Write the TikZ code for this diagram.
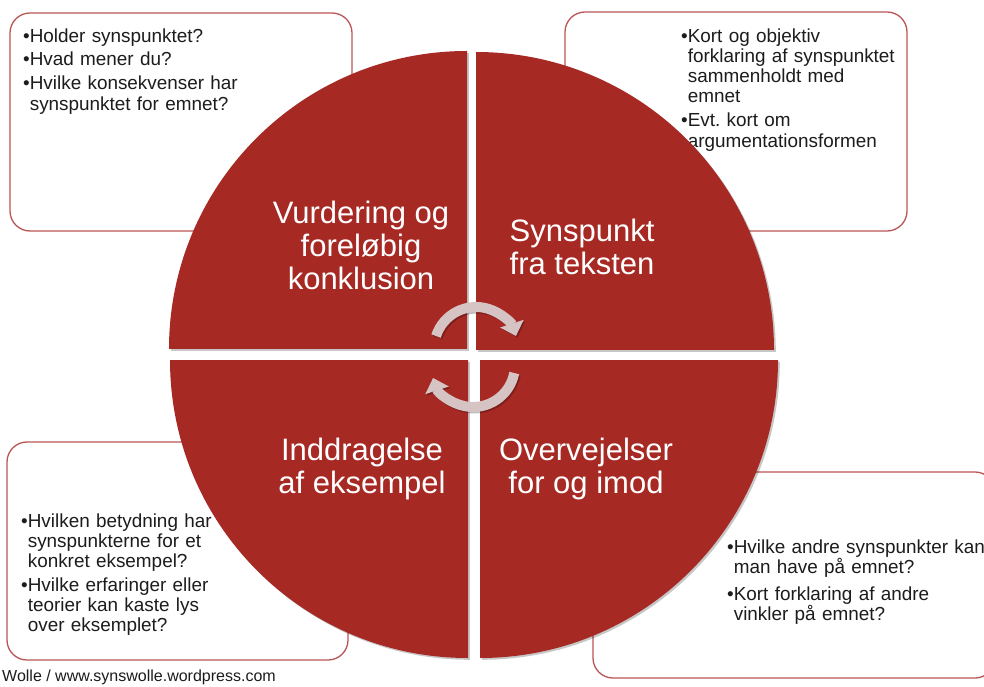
\documentclass[tikz,border=0pt]{standalone}
\usepackage{fontspec}
\setmainfont{Liberation Sans}
\usetikzlibrary{arrows.meta,shadows}
\definecolor{qred}{RGB}{167,41,36}
\definecolor{boxline}{RGB}{186,86,86}
\definecolor{arrowgray}{RGB}{214,196,197}
\definecolor{txt}{RGB}{28,28,28}
\frenchspacing
\newcommand{\bul}[1]{\par\noindent\hangindent=0.35em\hangafter=1 •#1\par}
\begin{document}
\begin{tikzpicture}[x=1pt,y=1pt,
  infobox/.style={draw=boxline, line width=1.3pt, fill=white, rounded corners=20pt, inner sep=0pt},
  boxtext/.style={anchor=north west, inner sep=0pt, text width=330pt, align=left, text=txt,
    font=\fontsize{18.9}{20.3}\selectfont},
  quad/.style={fill=qred, drop shadow={shadow xshift=1.8pt, shadow yshift=-1.8pt, opacity=0.22, fill=black}},
  title/.style={text=white, align=center, inner sep=0pt, font=\fontsize{31}{33}\selectfont},
  cyc/.style={draw=arrowgray, line width=10pt, -{Triangle[length=13pt,width=24pt]}},
  cycshadow/.style={draw=black, opacity=0.25, line width=10pt, -{Triangle[length=13pt,width=24pt]}}
]
\useasboundingbox (0,0) rectangle (984,686);
\fill[white] (0,0) rectangle (984,686);

% boxes
\node[infobox, minimum width=342pt, minimum height=218pt] (boxTL) at (181,564) {};
\node[infobox, minimum width=342pt, minimum height=219pt] (boxTR) at (736,564.5) {};
\node[infobox, minimum width=341pt, minimum height=218pt] (boxBL) at (177.5,135) {};
\node[infobox, minimum width=402pt, minimum height=206pt] (boxBR) at (794,111) {};

% box texts
\node[boxtext] (tTL) at (23,668) {\setlength{\parskip}{3.6pt}%
  \bul{Holder synspunktet?}%
  \bul{Hvad mener du?}%
  \bul{Hvilke konsekvenser har\newline synspunktet for emnet?}};
\node[boxtext] (tTR) at (681,668) {\setlength{\parskip}{3.6pt}%
  \bul{Kort og objektiv\newline forklaring af synspunktet\newline sammenholdt med\newline emnet}%
  \bul{Evt. kort om\newline argumentationsformen}};
\node[boxtext] (tBL) at (21,182) {\setlength{\parskip}{2.8pt}%
  \bul{Hvilken betydning har\newline synspunkterne for et\newline konkret eksempel?}%
  \bul{Hvilke erfaringer eller\newline teorier kan kaste lys\newline over eksemplet?}};
\node[boxtext] (tBR) at (727,160) {\setlength{\parskip}{6.5pt}%
  \bul{Hvilke andre synspunkter kan\newline man have på emnet?}%
  \bul{Kort forklaring af andre\newline vinkler på emnet?}};

% quadrants
\path[quad] (467,337) -- (169,337) arc[start angle=180, end angle=90, radius=298] -- cycle;
\path[quad] (476,336) -- (476,634) arc[start angle=90, end angle=0, radius=298] -- cycle;
\path[quad] (468,326) -- (170,326) arc[start angle=180, end angle=270, radius=298] -- cycle;
\path[quad] (480,326) -- (480,28) arc[start angle=270, end angle=360, radius=298] -- cycle;

% titles
\node[title] (qTL) at (361,440.5) {Vurdering og\\foreløbig\\konklusion};
\node[title] (qTR) at (582,439.5) {Synspunkt\\fra teksten};
\node[title] (qBL) at (362,217) {Inddragelse\\af eksempel};
\node[title] (qBR) at (586,217) {Overvejelser\\for og imod};

% cycle arrows
\coordinate (ctop) at (476,337);
\coordinate (cbot) at (473,321);
\coordinate (ctops) at (477.5,335.5);
\coordinate (cbots) at (474.5,319.5);
\draw[cycshadow] ([shift={(162:42)}]ctops) arc[start angle=162, end angle=18, radius=42];
\draw[cycshadow] ([shift={(-11:42)}]cbots) arc[start angle=-11, end angle=-162, radius=42];
\draw[cyc] ([shift={(162:42)}]ctop) arc[start angle=162, end angle=18, radius=42];
\draw[cyc] ([shift={(-11:42)}]cbot) arc[start angle=-11, end angle=-162, radius=42];

% credit line
\node[anchor=north west, inner sep=0pt, text=txt, font=\fontsize{16}{18}\selectfont] (credit) at (2,16.5) {Wolle / www.synswolle.wordpress.com};
\end{tikzpicture}
\end{document}
